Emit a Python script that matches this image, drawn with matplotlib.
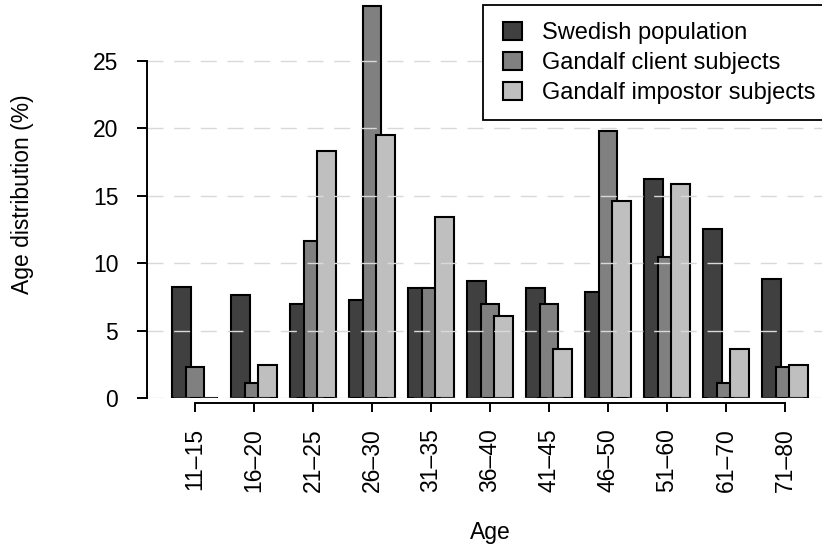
import matplotlib
matplotlib.use("Agg")
import matplotlib.pyplot as plt
import numpy as np
from matplotlib.patches import Rectangle

plt.rcParams['font.family'] = ['Liberation Sans', 'DejaVu Sans']
plt.rcParams['lines.scale_dashes'] = False

# Age groups and percentage per group
age_groups = ['11–15', '16–20', '21–25', '26–30', '31–35', '36–40',
              '41–45', '46–50', '51–60', '61–70', '71–80']
swedish = [8.25, 7.65, 6.95, 7.25, 8.15, 8.65, 8.15, 7.85, 16.25, 12.55, 8.85]
client = [2.33, 1.16, 11.63, 29.07, 8.14, 6.98, 6.98, 19.77, 10.47, 1.16, 2.33]
impostor = [0.0, 2.44, 18.29, 19.51, 13.41, 6.10, 3.66, 14.63, 15.85, 3.66, 2.44]

series = [('Swedish population', swedish, '#404040'),
          ('Gandalf client subjects', client, '#808080'),
          ('Gandalf impostor subjects', impostor, '#bfbfbf')]

fig = plt.figure(figsize=(8.22, 5.48), dpi=100)
ax = fig.add_axes([147 / 822, 149.7 / 548, 675 / 822, 398.3 / 548])

x = np.arange(len(age_groups))
step = 0.227
width = 0.314
for i, (name, vals, col) in enumerate(series):
    ax.bar(x + (i - 1) * step, vals, width=width, color=col,
           edgecolor='black', linewidth=1.5, label=name, zorder=2 + i * 0.1)

# dashed guide lines drawn over the bars
yt = [0, 5, 10, 15, 20, 25]
for v in yt:
    ax.axhline(v, color='#d9d9d9', linewidth=1.0, linestyle=(0, (11.5, 7.7)),
               zorder=3)

ax.set_xlim(-48 / 59, -48 / 59 + 675 / 59)
ax.set_ylim(0, 398.3 / 13.51)

ax.set_yticks(yt)
ax.set_yticklabels([str(v) for v in yt])
ax.set_xticks(x)
ax.set_xticklabels(age_groups)

for s in ['top', 'right']:
    ax.spines[s].set_visible(False)
ax.spines['left'].set_bounds(0, 25)
ax.spines['bottom'].set_bounds(0, len(age_groups) - 1)
ax.spines['bottom'].set_position(('outward', 3.4))
for s in ['left', 'bottom']:
    ax.spines[s].set_linewidth(1.4)
    ax.spines[s].set_zorder(5)

ax.tick_params(axis='y', length=7.2, width=1.4, pad=13.5, labelsize=16.5)
ax.tick_params(axis='x', length=6.5, width=1.4, pad=11.5, labelsize=16.5,
               labelrotation=90)

fig.text(490 / 822, 1 - 533 / 548, 'Age', ha='center', va='center',
         fontsize=16.5)
fig.text(22 / 822, 1 - 194 / 548, 'Age distribution (%)', rotation=90,
         ha='center', va='center', fontsize=16.5)

# legend box runs off the right edge
ax.add_patch(Rectangle((483 / 822, 1 - 120 / 548), 400 / 822, 115 / 548,
                       transform=fig.transFigure, clip_on=False,
                       facecolor='white', edgecolor='black',
                       linewidth=1.3, zorder=6))
leg = ax.legend(loc='upper left', bbox_to_anchor=(503 / 822, 1 - 22 / 548),
                bbox_transform=fig.transFigure, frameon=False, fontsize=17,
                handlelength=0.8, handleheight=0.8, handletextpad=0.85,
                labelspacing=0.32, borderpad=0, borderaxespad=0)
leg.set_zorder(7)
for h in leg.legend_handles:
    h.set_linewidth(1.5)

fig.savefig('out.png', dpi=100)
